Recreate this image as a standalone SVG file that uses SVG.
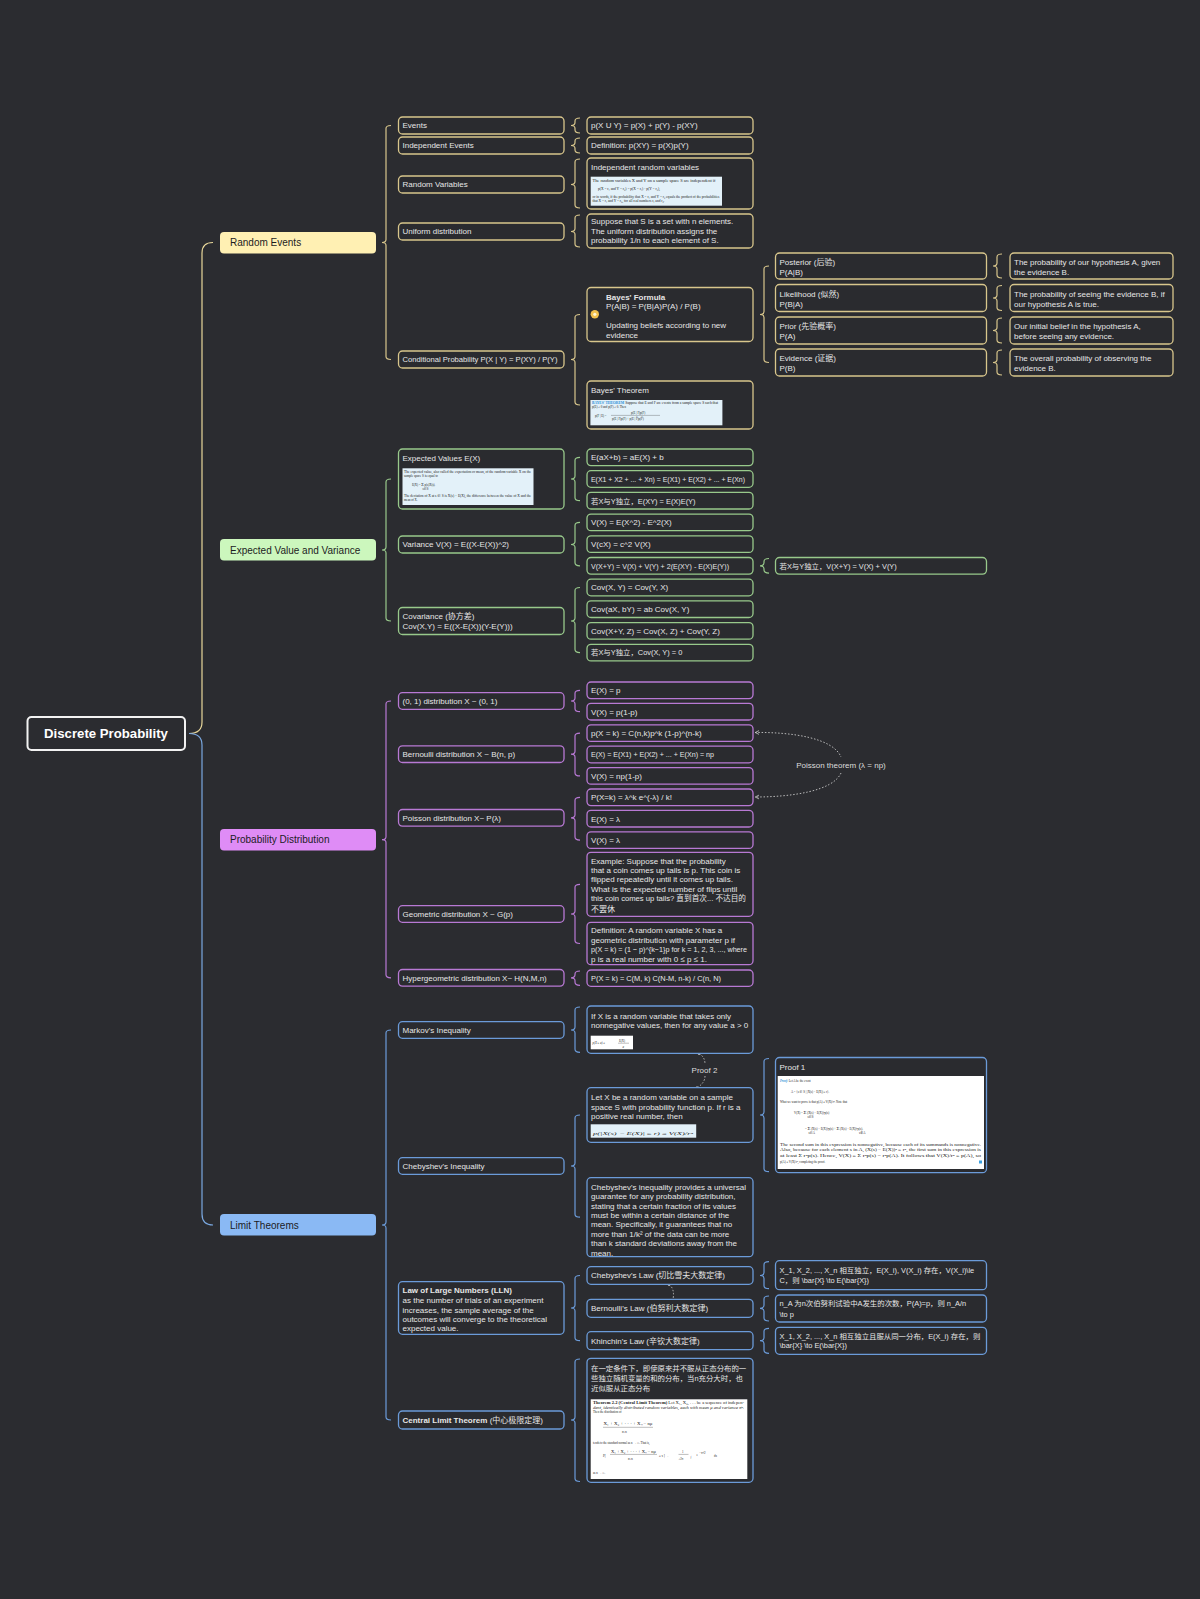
<svg xmlns="http://www.w3.org/2000/svg" width="1200" height="1599" viewBox="0 0 1200 1599">
<style>
.n{fill:#2a2b2f;stroke-width:1.3}
.y{stroke:#d8c68c}.g{stroke:#98c98b}.p{stroke:#b879d4}.b{stroke:#6b9bd9}
.br{fill:none;stroke-width:1.2}
.t{font-family:"Liberation Sans","Noto Sans CJK SC",sans-serif;font-size:8px;fill:#e6e6e6}
.c{font-size:7.4px}
.bd{font-weight:bold}
.l1{font-family:"Liberation Sans",sans-serif;font-size:10px;fill:#1c1c1e}
.im{font-family:"Liberation Serif","Noto Sans CJK SC",serif;fill:#222;font-size:3px}
.imbg{fill:#e3f1f9}
.dot{fill:none;stroke:#c8c8c8;stroke-width:0.9;stroke-dasharray:1.5 1.8}
.lbl{font-family:"Liberation Sans",sans-serif;font-size:8px;fill:#dcdcdc}
</style>
<rect width="1200" height="1599" fill="#2b2c30"/>

<g id="connectors">
<path class="br" stroke="#e8d79a" d="M189 733.5 Q202 733.5 202 722 L202 253 Q202 242.5 213 242.5"/>
<path class="br" stroke="#7aa8e0" d="M189 733.5 Q202 733.5 202 745 L202 1214 Q202 1225 213 1225"/>
<g class="br y">
<path d="M391 125.5 Q386 125.5 386 128.5 L386 239.5 Q386 242.5 382 242.5 Q386 242.5 386 245.5 L386 356.5 Q386 359.5 391 359.5"/>
<path d="M580 118 Q575 118 575 121 L575 122.5 Q575 125.5 571 125.5 Q575 125.5 575 128.5 L575 130 Q575 133 580 133"/>
<path d="M580 138 Q575 138 575 141 L575 142.5 Q575 145.5 571 145.5 Q575 145.5 575 148.5 L575 150 Q575 153 580 153"/>
<path d="M580 159 Q575 159 575 162 L575 181.5 Q575 184.5 571 184.5 Q575 184.5 575 187.5 L575 205 Q575 208 580 208"/>
<path d="M580 215 Q575 215 575 218 L575 228.5 Q575 231.5 571 231.5 Q575 231.5 575 234.5 L575 244 Q575 247 580 247"/>
<path d="M580 314.5 Q575 314.5 575 317.5 L575 356.5 Q575 359.5 571 359.5 Q575 359.5 575 362.5 L575 402 Q575 405 580 405"/>
<path d="M769 266 Q764 266 764 269 L764 311.5 Q764 314.5 760 314.5 Q764 314.5 764 317.5 L764 359.5 Q764 362.5 769 362.5"/>
<path d="M1002 254 Q997 254 997 257 L997 263 Q997 266 993 266 Q997 266 997 269 L997 275 Q997 278 1002 278"/>
<path d="M1002 285.5 Q997 285.5 997 288.5 L997 295 Q997 298 993 298 Q997 298 997 301 L997 307.5 Q997 310.5 1002 310.5"/>
<path d="M1002 318 Q997 318 997 321 L997 327.5 Q997 330.5 993 330.5 Q997 330.5 997 333.5 L997 340 Q997 343 1002 343"/>
<path d="M1002 350 Q997 350 997 353 L997 359.5 Q997 362.5 993 362.5 Q997 362.5 997 365.5 L997 372 Q997 375 1002 375"/>
</g>
<g class="br g">
<path d="M391 479 Q386 479 386 482 L386 547 Q386 550 382 550 Q386 550 386 553 L386 618 Q386 621 391 621"/>
<path d="M580 457.3 Q575 457.3 575 460.3 L575 476 Q575 479 571 479 Q575 479 575 482 L575 497.7 Q575 500.7 580 500.7"/>
<path d="M580 522.4 Q575 522.4 575 525.4 L575 541.5 Q575 544.5 571 544.5 Q575 544.5 575 547.5 L575 562.8 Q575 565.8 580 565.8"/>
<path d="M580 587.5 Q575 587.5 575 590.5 L575 618 Q575 621 571 621 Q575 621 575 624 L575 649.6 Q575 652.6 580 652.6"/>
<path d="M769 558.5 Q764 558.5 764 561.5 L764 562.8 Q764 565.8 760 565.8 Q764 565.8 764 568.8 L764 570.1 Q764 573.1 769 573.1"/>
</g>
<g class="br p">
<path d="M391 701 Q386 701 386 704 L386 836.7 Q386 839.7 382 839.7 Q386 839.7 386 842.7 L386 974.8 Q386 977.8 391 977.8"/>
<path d="M580 690.3 Q575 690.3 575 693.3 L575 698 Q575 701 571 701 Q575 701 575 704 L575 708.7 Q575 711.7 580 711.7"/>
<path d="M580 733.1 Q575 733.1 575 736.1 L575 751.2 Q575 754.2 571 754.2 Q575 754.2 575 757.2 L575 772.9 Q575 775.9 580 775.9"/>
<path d="M580 797.3 Q575 797.3 575 800.3 L575 814.8 Q575 817.8 571 817.8 Q575 817.8 575 820.8 L575 837.1 Q575 840.1 580 840.1"/>
<path d="M580 884.3 Q575 884.3 575 887.3 L575 911 Q575 914 571 914 Q575 914 575 917 L575 940.5 Q575 943.5 580 943.5"/>
<path d="M580 971 Q575 971 575 974 L575 974.8 Q575 977.8 571 977.8 Q575 977.8 575 980.8 L575 982.3 Q575 985.3 580 985.3"/>
</g>
<g class="br b">
<path d="M391 1030 Q386 1030 386 1033 L386 1222 Q386 1225 382 1225 Q386 1225 386 1228 L386 1417 Q386 1420 391 1420"/>
<path d="M580 1007 Q575 1007 575 1010 L575 1027 Q575 1030 571 1030 Q575 1030 575 1033 L575 1049.3 Q575 1052.3 580 1052.3"/>
<path d="M580 1115 Q575 1115 575 1118 L575 1163 Q575 1166 571 1166 Q575 1166 575 1169 L575 1214.2 Q575 1217.2 580 1217.2"/>
<path d="M580 1275.5 Q575 1275.5 575 1278.5 L575 1305 Q575 1308 571 1308 Q575 1308 575 1311 L575 1337.7 Q575 1340.7 580 1340.7"/>
<path d="M580 1359 Q575 1359 575 1362 L575 1417 Q575 1420 571 1420 Q575 1420 575 1423 L575 1478.5 Q575 1481.5 580 1481.5"/>
<path d="M769 1058.5 Q764 1058.5 764 1061.5 L764 1112 Q764 1115 760 1115 Q764 1115 764 1118 L764 1168.7 Q764 1171.7 769 1171.7"/>
<path d="M769 1261.7 Q764 1261.7 764 1264.7 L764 1272.5 Q764 1275.5 760 1275.5 Q764 1275.5 764 1278.5 L764 1285.7 Q764 1288.7 769 1288.7"/>
<path d="M769 1296 Q764 1296 764 1299 L764 1305.3 Q764 1308.3 760 1308.3 Q764 1308.3 764 1311.3 L764 1318 Q764 1321 769 1321"/>
<path d="M769 1328.3 Q764 1328.3 764 1331.3 L764 1337.7 Q764 1340.7 760 1340.7 Q764 1340.7 764 1343.7 L764 1350.3 Q764 1353.3 769 1353.3"/>
</g>
<path class="dot" d="M755 732.5 C792 732 833 738 841 757"/>
<path class="dot" d="M841 773 C833 791 792 797 755 797"/>
<path d="M759 730.6 L755.2 732.5 L759 734.4 M759 795.1 L755.2 797 L759 798.9" fill="none" stroke="#c8c8c8" stroke-width="0.8"/>
<text class="lbl" x="841" y="767.5" text-anchor="middle">Poisson theorem (λ = np)</text>
<path class="dot" d="M699 1053.5 Q705 1057 705 1064"/>
<path class="dot" d="M705 1076 Q705 1083 697 1087.7"/>
<circle cx="699" cy="1053.5" r="1.3" fill="#dcdcdc"/>
<circle cx="697" cy="1087.7" r="1.3" fill="#dcdcdc"/>
<text class="lbl" x="704.5" y="1072.8" text-anchor="middle">Proof 2</text>
<path class="dot" d="M669 1284.5 Q675 1289 673 1299.3"/>
<circle cx="669" cy="1284.5" r="1.3" fill="#dcdcdc"/>
</g>

<g id="root"><rect x="27.5" y="717" width="157.5" height="33" rx="4" fill="#2b2c30" stroke="#f2f2f2" stroke-width="2"/><text x="106" y="738.3" text-anchor="middle" font-family="Liberation Sans" font-weight="bold" font-size="13.2" fill="#ffffff">Discrete Probability</text></g>

<g id="random-events"><rect x="220" y="232" width="156" height="21.5" rx="4" fill="#fff0b3"/><text class="l1" x="230" y="246">Random Events</text></g>
<g id="ev"><rect x="220" y="539" width="156" height="21.5" rx="4" fill="#ccf7bd"/><text class="l1" x="230" y="553.5">Expected Value and Variance</text></g>
<g id="pd"><rect x="220" y="829" width="156" height="21.5" rx="4" fill="#df8cf6"/><text class="l1" x="230" y="843.2">Probability Distribution</text></g>
<g id="lt"><rect x="220" y="1214" width="156" height="21.5" rx="4" fill="#8ab9f4"/><text class="l1" x="230" y="1228.5">Limit Theorems</text></g>

<!-- Random Events level 2 -->
<g id="events"><rect class="n y" x="398.5" y="117" width="165.5" height="17" rx="4"/><text class="t" x="402.5" y="128.3">Events</text></g>
<g id="indep-events"><rect class="n y" x="398.5" y="137" width="165.5" height="17" rx="4"/><text class="t" x="402.5" y="148.3">Independent Events</text></g>
<g id="random-vars"><rect class="n y" x="398.5" y="176" width="165.5" height="17" rx="4"/><text class="t" x="402.5" y="187.3">Random Variables</text></g>
<g id="uniform"><rect class="n y" x="398.5" y="223" width="165.5" height="17" rx="4"/><text class="t" x="402.5" y="234.3">Uniform distribution</text></g>
<g id="cond-prob"><rect class="n y" x="398.5" y="351" width="165.5" height="17" rx="4"/><text class="t" x="402.5" y="362.3" textLength="155" lengthAdjust="spacingAndGlyphs">Conditional Probability P(X | Y) = P(XY) / P(Y)</text></g>

<!-- Random Events level 3 -->
<g id="union"><rect class="n y" x="587" y="117" width="166" height="17" rx="4"/><text class="t" x="591" y="128.3">p(X U Y) = p(X) + p(Y) - p(XY)</text></g>
<g id="indep-def"><rect class="n y" x="587" y="137" width="166" height="17" rx="4"/><text class="t" x="591" y="148.3">Definition: p(XY) = p(X)p(Y)</text></g>
<g id="indep-rv"><rect class="n y" x="587" y="158" width="166" height="51" rx="4"/><text class="t" x="591" y="169.5">Independent random variables</text>
<rect class="imbg" x="590.7" y="176.7" width="131.3" height="29"/>
<text class="im" x="592.5" y="181.5" textLength="123" lengthAdjust="spacingAndGlyphs">The random variables X and Y on a sample space S are independent if</text>
<text class="im" x="598" y="190" textLength="62" lengthAdjust="spacingAndGlyphs">p(X = r₁ and Y = r₂) = p(X = r₁) · p(Y = r₂),</text>
<text class="im" x="592.5" y="197.5" textLength="127" lengthAdjust="spacingAndGlyphs">or in words, if the probability that X = r₁ and Y = r₂ equals the product of the probabilities</text>
<text class="im" x="592.5" y="201.7" textLength="72" lengthAdjust="spacingAndGlyphs">that X = r₁ and Y = r₂, for all real numbers r₁ and r₂.</text></g>
<g id="uniform-def"><rect class="n y" x="587" y="214" width="166" height="34" rx="4"/><text class="t" x="591" y="224.3">Suppose that S is a set with n elements.</text><text class="t" x="591" y="233.8">The uniform distribution assigns the</text><text class="t" x="591" y="243.3">probability 1/n to each element of S.</text></g>
<g id="bayes-formula"><rect class="n y" x="587" y="287.5" width="166" height="54" rx="4"/>
<circle cx="594.8" cy="314.3" r="4.2" fill="#f2c14e"/><circle cx="594.8" cy="314.3" r="1.6" fill="#fff7d6"/>
<text class="t bd" x="606" y="299.5">Bayes' Formula</text><text class="t" x="606" y="309.1">P(A|B) = P(B|A)P(A) / P(B)</text><text class="t" x="606" y="328.1">Updating beliefs according to new</text><text class="t" x="606" y="337.5">evidence</text></g>
<g id="bayes-theorem"><rect class="n y" x="587" y="381" width="166" height="48" rx="4"/><text class="t" x="591" y="392.8">Bayes' Theorem</text>
<rect class="imbg" x="590.4" y="400" width="132" height="25.3"/>
<text class="im" x="592" y="404.3" textLength="126" lengthAdjust="spacingAndGlyphs"><tspan fill="#2b8fd6" font-weight="bold">BAYES' THEOREM</tspan>   Suppose that E and F are events from a sample space S such that</text>
<text class="im" x="592" y="408" textLength="34" lengthAdjust="spacingAndGlyphs">p(E) ≠ 0 and p(F) ≠ 0. Then</text>
<text class="im" x="631" y="413.8">p(E | F)p(F)</text>
<text class="im" x="595" y="416.6">p(F | E) =</text>
<line x1="611" y1="415.4" x2="660" y2="415.4" stroke="#333" stroke-width="0.3"/>
<text class="im" x="612" y="419.8">p(E | F)p(F) + p(E | F̅)p(F̅)</text></g>

<!-- Bayes level 4 / 5 -->
<g id="posterior"><rect class="n y" x="775.5" y="253" width="211" height="26" rx="4"/><text class="t" x="779.5" y="264.5">Posterior (后验)</text><text class="t" x="779.5" y="274.5">P(A|B)</text></g>
<g id="likelihood"><rect class="n y" x="775.5" y="284.5" width="211" height="27" rx="4"/><text class="t" x="779.5" y="296.8">Likelihood (似然)</text><text class="t" x="779.5" y="306.5">P(B|A)</text></g>
<g id="prior"><rect class="n y" x="775.5" y="317" width="211" height="27" rx="4"/><text class="t" x="779.5" y="328.8">Prior (先验概率)</text><text class="t" x="779.5" y="338.5">P(A)</text></g>
<g id="evidence"><rect class="n y" x="775.5" y="349" width="211" height="27" rx="4"/><text class="t" x="779.5" y="361.1">Evidence (证据)</text><text class="t" x="779.5" y="370.8">P(B)</text></g>
<g id="posterior-d"><rect class="n y" x="1010" y="253" width="163" height="26" rx="4"/><text class="t" x="1014" y="264.5">The probability of our hypothesis A, given</text><text class="t" x="1014" y="274.5">the evidence B.</text></g>
<g id="likelihood-d"><rect class="n y" x="1010" y="284.5" width="163" height="27" rx="4"/><text class="t" x="1014" y="296.8">The probability of seeing the evidence B, if</text><text class="t" x="1014" y="306.5">our hypothesis A is true.</text></g>
<g id="prior-d"><rect class="n y" x="1010" y="317" width="163" height="27" rx="4"/><text class="t" x="1014" y="328.8">Our initial belief in the hypothesis A,</text><text class="t" x="1014" y="338.5">before seeing any evidence.</text></g>
<g id="evidence-d"><rect class="n y" x="1010" y="349" width="163" height="27" rx="4"/><text class="t" x="1014" y="361.1">The overall probability of observing the</text><text class="t" x="1014" y="370.8">evidence B.</text></g>

<!-- Expected value level 2 -->
<g id="exp-values"><rect class="n g" x="398.5" y="449" width="165.5" height="60" rx="4"/><text class="t" x="402.5" y="461.1">Expected Values E(X)</text>
<rect class="imbg" x="402.5" y="468.3" width="131" height="36.7"/>
<text class="im" x="404" y="473.3" textLength="127" lengthAdjust="spacingAndGlyphs">The expected value, also called the expectation or mean, of the random variable X on the</text>
<text class="im" x="404" y="476.9" textLength="34" lengthAdjust="spacingAndGlyphs">sample space S is equal to</text>
<text class="im" x="412" y="486.3" font-size="3.2">E(X) = <tspan font-size="4.5">Σ</tspan> p(s)X(s).</text>
<text class="im" x="422.5" y="489.6" font-size="2">s∈S</text>
<text class="im" x="404" y="496.8" textLength="127" lengthAdjust="spacingAndGlyphs">The deviation of X at s ∈ S is X(s) − E(X), the difference between the value of X and the</text>
<text class="im" x="404" y="500.7">mean of X.</text></g>
<g id="variance"><rect class="n g" x="398.5" y="536" width="165.5" height="17" rx="4"/><text class="t" x="402.5" y="547.3">Variance V(X) = E((X-E(X))^2)</text></g>
<g id="covariance"><rect class="n g" x="398.5" y="607.5" width="165.5" height="27" rx="4"/><text class="t" x="402.5" y="618.8">Covariance (协方差)</text><text class="t" x="402.5" y="628.8">Cov(X,Y) = E((X-E(X))(Y-E(Y)))</text></g>

<!-- Expected value level 3 -->
<g id="ev1"><rect class="n g" x="587" y="449" width="166" height="16.6" rx="4"/><text class="t" x="591" y="460.1">E(aX+b) = aE(X) + b</text></g>
<g id="ev2"><rect class="n g" x="587" y="470.7" width="166" height="16.6" rx="4"/><text class="t" x="591" y="481.8" textLength="154" lengthAdjust="spacingAndGlyphs">E(X1 + X2 + ... + Xn) = E(X1) + E(X2) + ... + E(Xn)</text></g>
<g id="ev3"><rect class="n g" x="587" y="492.4" width="166" height="16.6" rx="4"/><text class="t c" x="591" y="503.5">若X与Y独立，E(XY) = E(X)E(Y)</text></g>
<g id="var1"><rect class="n g" x="587" y="514.1" width="166" height="16.6" rx="4"/><text class="t" x="591" y="525.2">V(X) = E(X^2) - E^2(X)</text></g>
<g id="var2"><rect class="n g" x="587" y="535.8" width="166" height="16.6" rx="4"/><text class="t" x="591" y="546.9">V(cX) = c^2 V(X)</text></g>
<g id="var3"><rect class="n g" x="587" y="557.5" width="166" height="16.6" rx="4"/><text class="t" x="591" y="568.6" textLength="138" lengthAdjust="spacingAndGlyphs">V(X+Y) = V(X) + V(Y) + 2(E(XY) - E(X)E(Y))</text></g>
<g id="cov1"><rect class="n g" x="587" y="579.2" width="166" height="16.6" rx="4"/><text class="t" x="591" y="590.3">Cov(X, Y) = Cov(Y, X)</text></g>
<g id="cov2"><rect class="n g" x="587" y="600.9" width="166" height="16.6" rx="4"/><text class="t" x="591" y="612">Cov(aX, bY) = ab Cov(X, Y)</text></g>
<g id="cov3"><rect class="n g" x="587" y="622.6" width="166" height="16.6" rx="4"/><text class="t" x="591" y="633.7">Cov(X+Y, Z) = Cov(X, Z) + Cov(Y, Z)</text></g>
<g id="cov4"><rect class="n g" x="587" y="644.3" width="166" height="16.6" rx="4"/><text class="t c" x="591" y="655.4">若X与Y独立，Cov(X, Y) = 0</text></g>
<g id="var3-indep"><rect class="n g" x="775.5" y="557.5" width="211" height="16.6" rx="4"/><text class="t c" x="779.5" y="568.6">若X与Y独立，V(X+Y) = V(X) + V(Y)</text></g>

<!-- Probability distribution level 2 -->
<g id="d01"><rect class="n p" x="398.5" y="692.7" width="165.5" height="16.6" rx="4"/><text class="t" x="402.5" y="703.8">(0, 1) distribution X ~ (0, 1)</text></g>
<g id="bern"><rect class="n p" x="398.5" y="745.9" width="165.5" height="16.6" rx="4"/><text class="t" x="402.5" y="757">Bernoulli distribution X ~ B(n, p)</text></g>
<g id="poisson"><rect class="n p" x="398.5" y="809.5" width="165.5" height="16.6" rx="4"/><text class="t" x="402.5" y="820.6">Poisson distribution X~ P(λ)</text></g>
<g id="geom"><rect class="n p" x="398.5" y="905.7" width="165.5" height="16.6" rx="4"/><text class="t" x="402.5" y="916.8">Geometric distribution X ~ G(p)</text></g>
<g id="hyper"><rect class="n p" x="398.5" y="969.5" width="165.5" height="16.6" rx="4"/><text class="t" x="402.5" y="980.6">Hypergeometric distribution X~ H(N,M,n)</text></g>

<!-- Probability distribution level 3 -->
<g id="d01-e"><rect class="n p" x="587" y="682" width="166" height="16.6" rx="4"/><text class="t" x="591" y="693.1">E(X) = p</text></g>
<g id="d01-v"><rect class="n p" x="587" y="703.4" width="166" height="16.6" rx="4"/><text class="t" x="591" y="714.5">V(X) = p(1-p)</text></g>
<g id="bern-p"><rect class="n p" x="587" y="724.8" width="166" height="16.6" rx="4"/><text class="t" x="591" y="735.9">p(X = k) = C(n,k)p^k (1-p)^(n-k)</text></g>
<g id="bern-e"><rect class="n p" x="587" y="746.2" width="166" height="16.6" rx="4"/><text class="t" x="591" y="757.3" textLength="123" lengthAdjust="spacingAndGlyphs">E(X) = E(X1) + E(X2) + ... + E(Xn) = np</text></g>
<g id="bern-v"><rect class="n p" x="587" y="767.6" width="166" height="16.6" rx="4"/><text class="t" x="591" y="778.7">V(X) = np(1-p)</text></g>
<g id="pois-p"><rect class="n p" x="587" y="789" width="166" height="16.6" rx="4"/><text class="t" x="591" y="800.1">P(X=k) = λ^k e^(-λ) / k!</text></g>
<g id="pois-e"><rect class="n p" x="587" y="810.4" width="166" height="16.6" rx="4"/><text class="t" x="591" y="821.5">E(X) = λ</text></g>
<g id="pois-v"><rect class="n p" x="587" y="831.8" width="166" height="16.6" rx="4"/><text class="t" x="591" y="842.9">V(X) = λ</text></g>
<g id="geom-ex"><rect class="n p" x="587" y="852.3" width="166" height="64" rx="4"/><text class="t" x="591" y="863.5">Example: Suppose that the probability</text><text class="t" x="591" y="872.8">that a coin comes up tails is p. This coin is</text><text class="t" x="591" y="882.1">flipped repeatedly until it comes up tails.</text><text class="t" x="591" y="891.5">What is the expected number of flips until</text><text class="t" x="591" y="901.1" textLength="155" lengthAdjust="spacingAndGlyphs">this coin comes up tails? 直到首次... 不达目的</text><text class="t" x="591" y="911.6">不罢休</text></g>
<g id="geom-def"><rect class="n p" x="587" y="922.3" width="166" height="42.4" rx="4"/><text class="t" x="591" y="933.1">Definition: A random variable X has a</text><text class="t" x="591" y="942.5">geometric distribution with parameter p if</text><text class="t" x="591" y="952.1" textLength="156" lengthAdjust="spacingAndGlyphs">p(X = k) = (1 − p)^{k−1}p for k = 1, 2, 3, ..., where</text><text class="t" x="591" y="961.5">p is a real number with 0 ≤ p ≤ 1.</text></g>
<g id="hyper-p"><rect class="n p" x="587" y="970" width="166" height="16.3" rx="4"/><text class="t" x="591" y="981" textLength="130" lengthAdjust="spacingAndGlyphs">P(X = k) = C(M, k) C(N-M, n-k) / C(n, N)</text></g>

<!-- Limit theorems level 2 -->
<g id="markov"><rect class="n b" x="398.5" y="1021.7" width="165.5" height="16.6" rx="4"/><text class="t" x="402.5" y="1032.8">Markov's Inequality</text></g>
<g id="cheb-ineq"><rect class="n b" x="398.5" y="1157.7" width="165.5" height="16.6" rx="4"/><text class="t" x="402.5" y="1168.8">Chebyshev's Inequality</text></g>
<g id="lln"><rect class="n b" x="398.5" y="1281.7" width="165.5" height="52.6" rx="4"/><text class="t bd" x="402.5" y="1293.1">Law of Large Numbers (LLN)</text><text class="t" x="402.5" y="1302.8">as the number of trials of an experiment</text><text class="t" x="402.5" y="1312.5">increases, the sample average of the</text><text class="t" x="402.5" y="1321.8">outcomes will converge to the theoretical</text><text class="t" x="402.5" y="1331.1">expected value.</text></g>
<g id="clt"><rect class="n b" x="398.5" y="1411" width="165.5" height="18" rx="4"/><text class="t" x="402.5" y="1422.8"><tspan font-weight="bold">Central Limit Theorem</tspan> (中心极限定理)</text></g>

<!-- Limit theorems level 3 -->
<g id="markov-d"><rect class="n b" x="587" y="1006" width="166" height="47.3" rx="4"/><text class="t" x="591" y="1018.5">If X is a random variable that takes only</text><text class="t" x="591" y="1027.8">nonnegative values, then for any value a &gt; 0</text>
<rect x="590.7" y="1035.7" width="42.3" height="13.6" fill="#ffffff"/>
<text class="im" x="592.5" y="1044.3" font-size="4.2" font-style="italic">p(X ≥ a) ≤</text>
<text class="im" x="619" y="1041.8" font-size="3.8">E(X)</text>
<line x1="618" y1="1043.2" x2="629" y2="1043.2" stroke="#222" stroke-width="0.3"/>
<text class="im" x="622.5" y="1047.9" font-size="3.8" font-style="italic">a</text></g>
<g id="cheb-1"><rect class="n b" x="587" y="1087.7" width="166" height="54.6" rx="4"/><text class="t" x="591" y="1099.8">Let X be a random variable on a sample</text><text class="t" x="591" y="1109.5">space S with probability function p. If r is a</text><text class="t" x="591" y="1118.8">positive real number, then</text>
<rect class="imbg" x="590.7" y="1124.3" width="105.5" height="13.4"/>
<text class="im" x="593" y="1134.6" font-size="8.5" font-style="italic" textLength="100" lengthAdjust="spacingAndGlyphs">p(|X(s) − E(X)| ≥ r) ≤ V(X)/r²</text></g>
<g id="cheb-2"><rect class="n b" x="587" y="1177.7" width="166" height="79" rx="4"/><text class="t" x="591" y="1189.5">Chebyshev's inequality provides a universal</text><text class="t" x="591" y="1199.1">guarantee for any probability distribution,</text><text class="t" x="591" y="1208.5">stating that a certain fraction of its values</text><text class="t" x="591" y="1217.8">must be within a certain distance of the</text><text class="t" x="591" y="1227.1">mean. Specifically, it guarantees that no</text><text class="t" x="591" y="1236.5">more than 1/k² of the data can be more</text><text class="t" x="591" y="1246.1">than k standard deviations away from the</text><text class="t" x="591" y="1255.5">mean.</text></g>
<g id="cheb-law"><rect class="n b" x="587" y="1266.7" width="166" height="17.6" rx="4"/><text class="t" x="591" y="1278.3">Chebyshev's Law (切比雪夫大数定律)</text></g>
<g id="bern-law"><rect class="n b" x="587" y="1299.3" width="166" height="18" rx="4"/><text class="t" x="591" y="1311.1">Bernoulli's Law (伯努利大数定律)</text></g>
<g id="khin-law"><rect class="n b" x="587" y="1331.7" width="166" height="18" rx="4"/><text class="t" x="591" y="1343.5">Khinchin's Law (辛钦大数定律)</text></g>
<g id="clt-d"><rect class="n b" x="587" y="1358.3" width="166" height="124" rx="4"/><text class="t c" x="591" y="1370.5">在一定条件下，即使原来并不服从正态分布的一</text><text class="t c" x="591" y="1381.1">些独立随机变量的和的分布，当n充分大时，也</text><text class="t c" x="591" y="1391.1">近似服从正态分布</text>
<rect x="590.7" y="1399.3" width="156.6" height="79.7" fill="#ffffff"/>
<text class="im" x="593" y="1404.3" font-size="3.2" textLength="151" lengthAdjust="spacingAndGlyphs"><tspan font-weight="bold">Theorem 2.2 (Central Limit Theorem)</tspan>   Let X₁, X₂, . . . be a sequence of indepen-</text>
<text class="im" x="593" y="1408.7" font-size="3.2" font-style="italic" textLength="151" lengthAdjust="spacingAndGlyphs">dent, identically distributed random variables, each with mean μ and variance σ².</text>
<text class="im" x="593" y="1413.3" font-size="3.2">Then the distribution of</text>
<text class="im" x="603.5" y="1425.3" font-size="3.2" textLength="49" lengthAdjust="spacingAndGlyphs">X₁ + X₂ + · · · + Xₙ − nμ</text>
<line x1="603" y1="1427.3" x2="653" y2="1427.3" stroke="#222" stroke-width="0.3"/>
<text class="im" x="622" y="1432.8" font-size="3.2">σ√n</text>
<text class="im" x="593" y="1443.5" font-size="3.2">tends to the standard normal as n → ∞. That is,</text>
<text class="im" x="603" y="1457" font-size="4.5">P[</text>
<text class="im" x="611" y="1452.5" font-size="3" textLength="45" lengthAdjust="spacingAndGlyphs">X₁ + X₂ + · · · + Xₙ − nμ</text>
<line x1="610" y1="1454.4" x2="657" y2="1454.4" stroke="#222" stroke-width="0.3"/>
<text class="im" x="628" y="1459.8" font-size="3">σ√n</text>
<text class="im" x="659" y="1456.6" font-size="3.2">≤ x ]   →</text>
<text class="im" x="682" y="1453" font-size="3">1</text>
<line x1="678.5" y1="1454.4" x2="688.5" y2="1454.4" stroke="#222" stroke-width="0.3"/>
<text class="im" x="678.5" y="1459.8" font-size="3">√2π</text>
<text class="im" x="690.5" y="1458.3" font-size="6">∫</text>
<text class="im" x="696.5" y="1456.4" font-size="3.2">e</text>
<text class="im" x="699.2" y="1454.3" font-size="2">−x²/2</text>
<text class="im" x="714" y="1456.6" font-size="3.2">dx</text>
<text class="im" x="593" y="1474" font-size="3.2">as n → ∞.</text></g>

<!-- Limit theorems level 4 -->
<g id="proof1"><rect class="n b" x="775.5" y="1057.5" width="211" height="115.2" rx="4"/><text class="t" x="779.5" y="1069.5">Proof 1</text>
<rect x="777.7" y="1076" width="206.3" height="93" fill="#ffffff"/>
<text class="im" x="780" y="1081.6" font-size="3.6"><tspan fill="#2b8fd6" font-weight="bold" font-style="italic">Proof:</tspan> Let A be the event</text>
<text class="im" x="791" y="1093" font-size="3.6">A = {s ∈ S | |X(s) − E(X)| ≥ r}.</text>
<text class="im" x="780" y="1102.5" font-size="3.6">What we want to prove is that p(A) ≤ V(X)/r². Note that</text>
<text class="im" x="794" y="1114" font-size="3.6">V(X) = <tspan font-size="5">Σ</tspan> (X(s) − E(X))²p(s)</text>
<text class="im" x="807.5" y="1118.4" font-size="2.2">s∈S</text>
<text class="im" x="805" y="1130" font-size="3.6">= <tspan font-size="5">Σ</tspan> (X(s) − E(X))²p(s) + <tspan font-size="5">Σ</tspan> (X(s) − E(X))²p(s).</text>
<text class="im" x="808.5" y="1134.4" font-size="2.2">s∈A</text>
<text class="im" x="859" y="1134.4" font-size="2.2">s∉A</text>
<text class="im" x="780" y="1145.5" font-size="3.6" textLength="201" lengthAdjust="spacingAndGlyphs">The second sum in this expression is nonnegative, because each of its summands is nonnegative.</text>
<text class="im" x="780" y="1151.2" font-size="3.6" textLength="201" lengthAdjust="spacingAndGlyphs">Also, because for each element s in A, (X(s) − E(X))² ≥ r², the first sum in this expression is</text>
<text class="im" x="780" y="1157" font-size="3.6" textLength="201" lengthAdjust="spacingAndGlyphs">at least Σ r²p(s). Hence, V(X) ≥ Σ r²p(s) = r²p(A). It follows that V(X)/r² ≥ p(A), so</text>
<text class="im" x="780" y="1163" font-size="3.6">p(A) ≤ V(X)/r², completing the proof.</text>
<rect x="979" y="1160.5" width="3" height="3" fill="#3aa0e0"/></g>
<g id="cheb-law-d"><rect class="n b" x="775.5" y="1260.7" width="211" height="29" rx="4"/><text class="t c" x="779.5" y="1273">X_1, X_2, ..., X_n 相互独立，E(X_i), V(X_i) 存在，V(X_i)\le</text><text class="t c" x="779.5" y="1283">C，则 \bar{X} \to E(\bar{X})</text></g>
<g id="bern-law-d"><rect class="n b" x="775.5" y="1295" width="211" height="27" rx="4"/><text class="t c" x="779.5" y="1306">n_A 为n次伯努利试验中A发生的次数，P(A)=p，则 n_A/n</text><text class="t c" x="779.5" y="1316.7">\to p</text></g>
<g id="khin-law-d"><rect class="n b" x="775.5" y="1327.3" width="211" height="27" rx="4"/><text class="t c" x="779.5" y="1338.7">X_1, X_2, ..., X_n 相互独立且服从同一分布，E(X_i) 存在，则</text><text class="t c" x="779.5" y="1348.4">\bar{X} \to E(\bar{X})</text></g>
</svg>
